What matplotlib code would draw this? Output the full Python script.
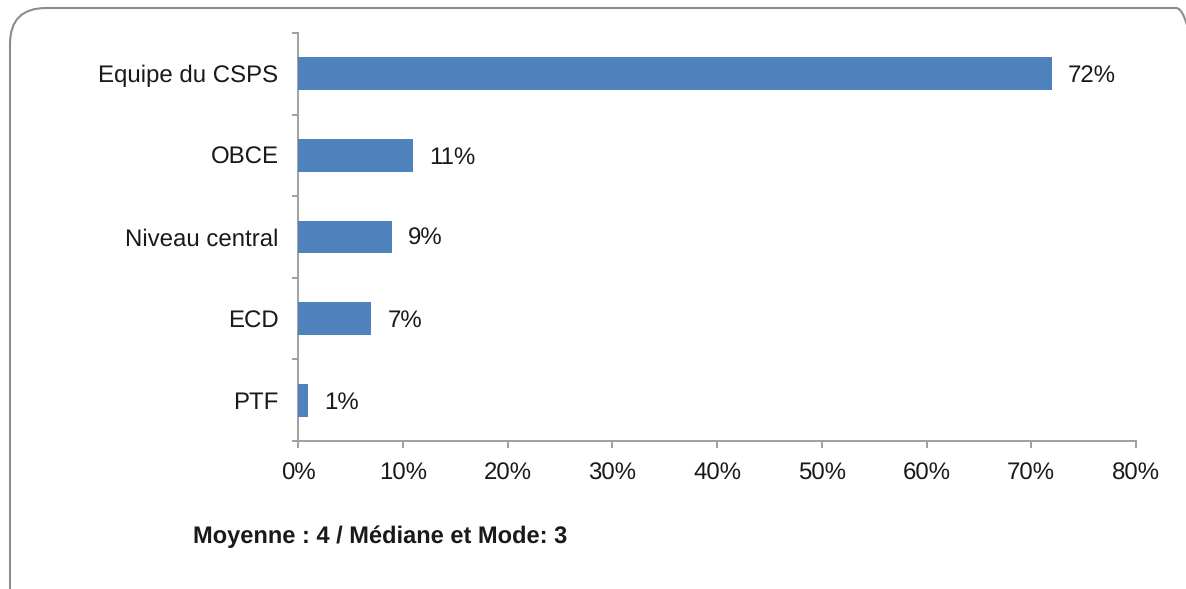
import matplotlib
matplotlib.use("Agg")
import matplotlib.pyplot as plt
from matplotlib.patches import FancyBboxPatch
from matplotlib.transforms import IdentityTransform
from matplotlib.ticker import FixedLocator, PercentFormatter

categories = ["Equipe du CSPS", "OBCE", "Niveau central", "ECD", "PTF"]
values = [72, 11, 9, 7, 1]
xticks = [0, 10, 20, 30, 40, 50, 60, 70, 80]
note = "Moyenne : 4 / Médiane et Mode: 3"

plt.rcParams['font.family'] = ['Liberation Sans', 'DejaVu Sans']
plt.rcParams['text.hinting'] = 'no_hinting'

W, H = 1186, 589
fig = plt.figure(figsize=(W / 100, H / 100), dpi=100)
fig.patch.set_facecolor("white")

# rounded frame in pixel coordinates (origin bottom-left)
frame = FancyBboxPatch((10, -60), 1212 - 10, (H - 8) + 60,
                       boxstyle="round,pad=0,rounding_size=36",
                       transform=IdentityTransform(), facecolor="none",
                       edgecolor="#8c8c8c", linewidth=1.5, clip_on=False)
fig.patches.append(frame)

FS = 17.3
ax = fig.add_axes([298 / W, 1 - 441 / H, (1136 - 298) / W, (441 - 33) / H])
ypos = list(range(len(categories)))
ax.barh(ypos, values, height=0.4, color="#4f81bd", zorder=3)
ax.set_ylim(len(categories) - 0.5, -0.5)
ax.set_xlim(0, 80)

ax.set_yticks(ypos)
ax.set_yticklabels(categories, fontsize=FS, color="#1a1a1a")
ax.tick_params(axis="y", which="major", length=0, pad=14)
ax.yaxis.set_minor_locator(FixedLocator([i - 0.5 for i in range(len(categories) + 1)]))
ax.tick_params(axis="y", which="minor", length=4.5, width=1.4, color="#a0a0a0", direction="out")

ax.set_xticks(xticks)
ax.xaxis.set_major_formatter(PercentFormatter(decimals=0))
ax.tick_params(axis="x", which="major", length=5, width=1.4, color="#a0a0a0",
               labelsize=FS, labelcolor="#1a1a1a", pad=10.5)

for s in ["top", "right"]:
    ax.spines[s].set_visible(False)
for s in ["left", "bottom"]:
    ax.spines[s].set_color("#a0a0a0")
    ax.spines[s].set_linewidth(1.4)

for y, v in zip(ypos, values):
    ax.annotate(f"{v}%", xy=(v, y), xytext=(16, -2), textcoords="offset pixels",
                va="center", ha="left", fontsize=FS, color="#1a1a1a")

fig.text(193 / W, 1 - 537 / H, note, fontsize=17, fontweight="bold",
         color="#1a1a1a", va="center", ha="left")

fig.savefig("out.png", dpi=100)
